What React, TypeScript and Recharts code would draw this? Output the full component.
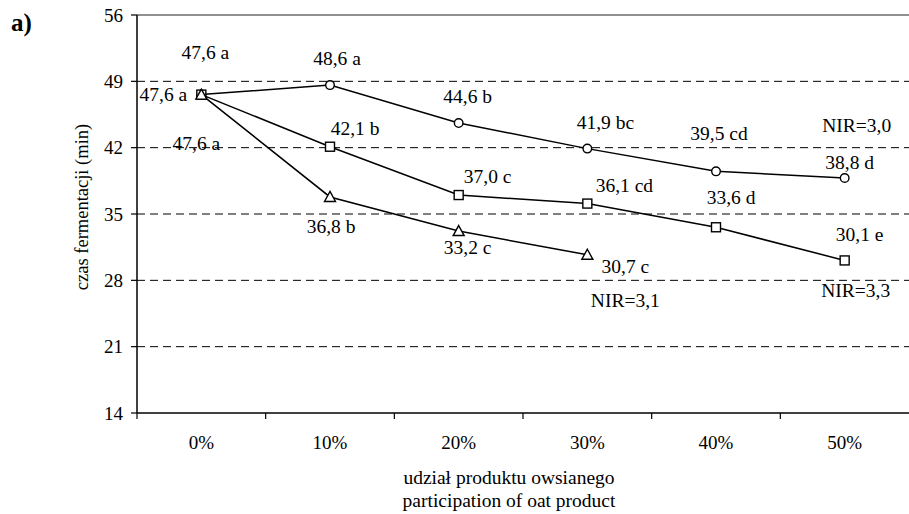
import React from "react";
import { LineChart, Line, XAxis, YAxis, ReferenceLine, LabelList } from "recharts";

// udział produktu owsianego
const categories = ["0%", "10%", "20%", "30%", "40%", "50%"];

// czas fermentacji (min) – three series
const circleValues = [47.6, 48.6, 44.6, 41.9, 39.5, 38.8];
const squareValues = [47.6, 42.1, 37.0, 36.1, 33.6, 30.1];
const triangleValues = [47.6, 36.8, 33.2, 30.7];

// homogeneous groups
const circleGroups = ["a", "a", "b", "bc", "cd", "d"];
const squareGroups = ["a", "b", "c", "cd", "d", "e"];
const triangleGroups = ["a", "b", "c", "c"];

const nirCircle = "NIR=3,0";
const nirSquare = "NIR=3,3";
const nirTriangle = "NIR=3,1";

const yTicks = [14, 21, 28, 35, 42, 49, 56];
const gridValues = [21, 28, 35, 42, 49];

const data = categories.map((cat, i) => ({
  cat,
  circle: circleValues[i],
  square: squareValues[i],
  triangle: i < triangleValues.length ? triangleValues[i] : null,
}));

// label placement (relative to the point)
const circleOffsets = [[4, -42], [7, -27], [9, -27], [18, -26], [3, -38], [5, -15]];
const squareOffsets = [[-38, 0], [25, -18], [29, -19], [37, -18], [15, -30], [15, -26]];
const triangleOffsets = [[-5, 49], [1, 30], [9, 16], [38, 12]];
const nirCircleOffset = [12, -52];
const nirSquareOffset = [11, 30];
const nirTriangleOffset = [38, 46];

const W = 909;
const H = 514;
const PLOT_LEFT = 137;
const BAND = (W - PLOT_LEFT) / categories.length;
const FONT = "Liberation Serif";
const LABEL_SIZE = 19.5;

const fmt = (v: number) => v.toFixed(1).replace(".", ",");

const CircleDot = (p: any) => {
  if (p.cx == null || p.cy == null) return null;
  return <circle cx={p.cx} cy={p.cy} r={4.3} fill="#fff" stroke="#000" strokeWidth={1.4} />;
};
const SquareDot = (p: any) => {
  if (p.cx == null || p.cy == null) return null;
  return <rect x={p.cx - 4.5} y={p.cy - 4.5} width={9} height={9} fill="#fff" stroke="#000" strokeWidth={1.4} />;
};
const TriangleDot = (p: any) => {
  if (p.cx == null || p.cy == null) return null;
  return (
    <path
      d={`M${p.cx},${p.cy - 5.5} L${p.cx + 5.5},${p.cy + 4.5} L${p.cx - 5.5},${p.cy + 4.5} Z`}
      fill="#fff"
      stroke="#000"
      strokeWidth={1.4}
    />
  );
};

const makeLabel = (groups: string[], offsets: number[][], nir: string, nirOff: number[]) => (p: any) => {
  const { x, y, index, value } = p;
  if (value == null || x == null) return null;
  const [dx, dy] = offsets[index];
  return (
    <g>
      <text x={x + dx} y={y + dy} textAnchor="middle" dominantBaseline="central" style={{ fontFamily: FONT }} fontSize={LABEL_SIZE} fill="#000">
        {`${fmt(value)} ${groups[index]}`}
      </text>
      {index === groups.length - 1 && (
        <text x={x + nirOff[0]} y={y + nirOff[1]} textAnchor="middle" dominantBaseline="central" style={{ fontFamily: FONT }} fontSize={LABEL_SIZE} fill="#000">
          {nir}
        </text>
      )}
    </g>
  );
};

const CatTick = (p: any) => {
  const { x, y, payload } = p;
  const bx = x - BAND / 2;
  return (
    <g>
      <line x1={bx} x2={bx} y1={y} y2={y + 6} stroke="#000" strokeWidth={1.2} />
      <text x={x} y={y + 29} textAnchor="middle" dominantBaseline="central" style={{ fontFamily: FONT }} fontSize={19} fill="#000">
        {payload.value}
      </text>
    </g>
  );
};

const XTitle = (p: any) => {
  const vb = p.viewBox || { x: PLOT_LEFT, width: W - PLOT_LEFT, y: 413 };
  const cx = vb.x + vb.width / 2 - 14;
  return (
    <g style={{ fontFamily: FONT }} fontSize={19.5} fill="#000">
      <text x={cx} y={477} textAnchor="middle" dominantBaseline="central">udział produktu owsianego</text>
      <text x={cx} y={500} textAnchor="middle" dominantBaseline="central">participation of oat product</text>
    </g>
  );
};

const YTitle = () => (
  <text
    x={82}
    y={207}
    transform="rotate(-90 82 207)"
    textAnchor="middle"
    dominantBaseline="central"
    style={{ fontFamily: FONT }}
    fontSize={18.5}
    fill="#000"
  >
    czas fermentacji (min)
  </text>
);

export default function App() {
  return (
    <div style={{ position: "relative", width: W, height: H, background: "#fff", fontFamily: FONT }}>
      <style>{"body{margin:0}"}</style>
      <div style={{ position: "absolute", left: 11, top: 8, fontFamily: FONT, fontWeight: "bold", fontSize: 25, lineHeight: "30px" }}>a)</div>
      <LineChart width={W} height={H} data={data} margin={{ top: 15, right: 0, bottom: 0, left: 0 }}>
        <XAxis
          dataKey="cat"
          scale="band"
          height={101}
          tickSize={0}
          tickMargin={0}
          tickLine={false}
          axisLine={{ stroke: "#000", strokeWidth: 1.5 }}
          tick={<CatTick />}
          interval={0}
          label={{ content: <XTitle /> } as any}
        />
        <YAxis
          width={137}
          domain={[14, 56]}
          ticks={yTicks}
          interval={0}
          tickSize={6}
          tickMargin={8}
          tickLine={{ stroke: "#000", strokeWidth: 1.2 }}
          axisLine={{ stroke: "#000", strokeWidth: 1.5 }}
          tick={{ fill: "#000", fontSize: 19, style: { fontFamily: FONT } } as any}
          label={{ content: <YTitle /> } as any}
        />
        {gridValues.map((v) => (
          <ReferenceLine key={v} y={v} stroke="#000" strokeWidth={1} strokeDasharray="8 5" />
        ))}
        <ReferenceLine y={56} stroke="#8f8f8f" strokeWidth={2} />
        <Line
          dataKey="circle"
          stroke="#000"
          strokeWidth={1.5}
          dot={<CircleDot />}
          isAnimationActive={false}
        >
          <LabelList dataKey="circle" content={makeLabel(circleGroups, circleOffsets, nirCircle, nirCircleOffset)} />
        </Line>
        <Line
          dataKey="square"
          stroke="#000"
          strokeWidth={1.5}
          dot={<SquareDot />}
          isAnimationActive={false}
        >
          <LabelList dataKey="square" content={makeLabel(squareGroups, squareOffsets, nirSquare, nirSquareOffset)} />
        </Line>
        <Line
          dataKey="triangle"
          stroke="#000"
          strokeWidth={1.5}
          dot={<TriangleDot />}
          isAnimationActive={false}
        >
          <LabelList dataKey="triangle" content={makeLabel(triangleGroups, triangleOffsets, nirTriangle, nirTriangleOffset)} />
        </Line>
      </LineChart>
    </div>
  );
}
